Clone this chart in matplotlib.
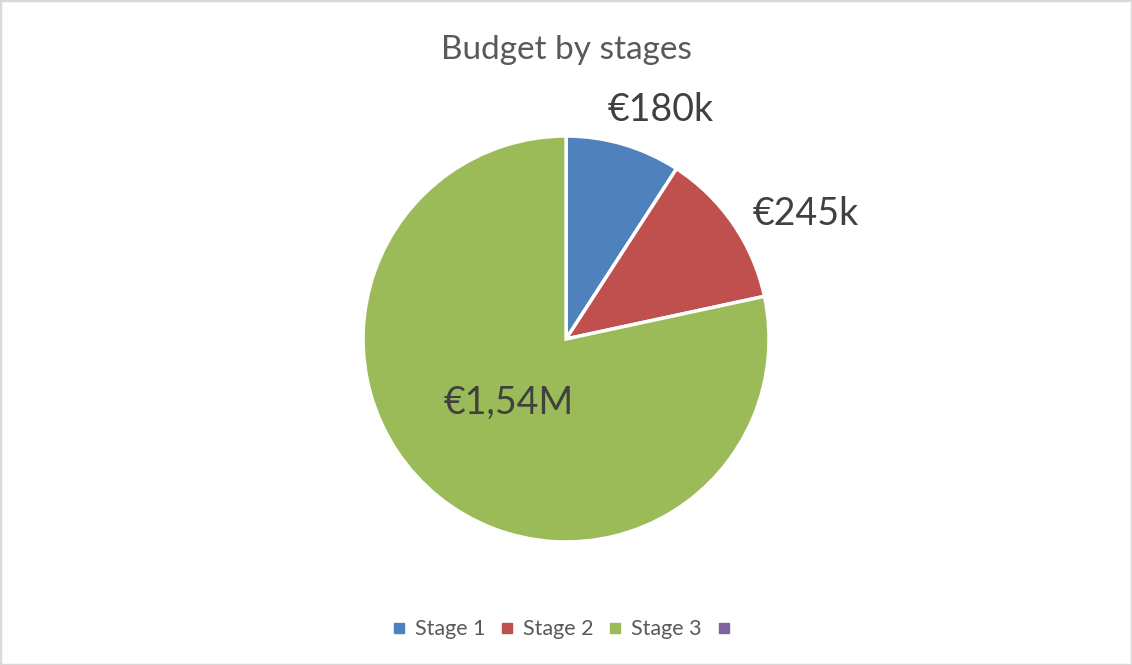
import numpy as np
import matplotlib.pyplot as plt
from matplotlib.patches import Rectangle

plt.rcParams['font.family'] = ['Lato', 'DejaVu Sans']

# Budget par étape (en k€)
stages = ['Stage 1', 'Stage 2', 'Stage 3', '']
budget = [180, 245, 1540, 0]
etiquettes = ['€180k', '€245k', '€1,54M']
couleurs = ['#4F81BD', '#C0504D', '#9BBB59', '#8064A2']

fig = plt.figure(figsize=(11.32, 6.65), dpi=100)
fig.patches.append(Rectangle((0, 0), 1, 1, transform=fig.transFigure, fill=False,
                             edgecolor='#D9D9D9', linewidth=2.5))

ax = fig.add_axes([0.3207, 0.185, 0.3587, 0.6105])
wedges, _ = ax.pie(budget[:3], colors=couleurs[:3], startangle=90, counterclock=False,
                   wedgeprops=dict(edgecolor='white', linewidth=2.5), radius=1)
ax.set_xlim(-1, 1)
ax.set_ylim(-1, 1)
ax.set_aspect('equal')

# position des étiquettes : rayon et décalage d'angle
rayons = [1.22, 1.33, 0.42]
decal = [-6, -7, -3]
for w, txt, r, d in zip(wedges, etiquettes, rayons, decal):
    a = np.deg2rad((w.theta1 + w.theta2) / 2 + d)
    ax.text(r * np.cos(a), r * np.sin(a), txt, ha='center', va='center',
            fontsize=27, color='#404040')

fig.text(0.5, 0.925, 'Budget by stages', ha='center', va='center', fontsize=24, color='#595959')

handles = [plt.Line2D([], [], marker='s', linestyle='', color=c, markersize=7) for c in couleurs]
fig.legend(handles, stages, loc='center', bbox_to_anchor=(0.5, 0.054), ncol=4, frameon=False,
           fontsize=15.5, labelcolor='#595959', handlelength=0.6, handletextpad=0.44,
           columnspacing=0.72)

fig.savefig('out.png', dpi=100)
